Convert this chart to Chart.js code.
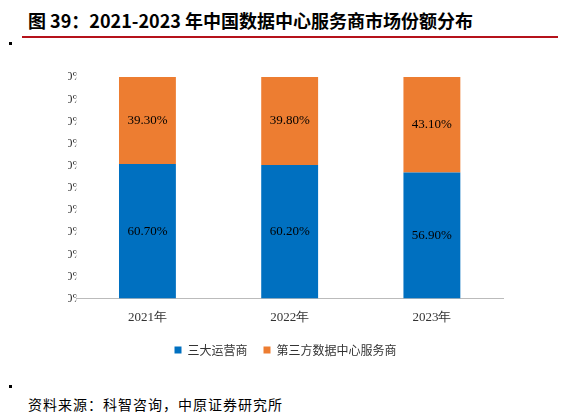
<!DOCTYPE html>
<html>
<head>
<meta charset="utf-8">
<script src="https://cdn.jsdelivr.net/npm/chart.js@4"></script>
<style>
body { margin:0; width:566px; height:420px; background:#fff; position:relative; font-family:"Noto Sans CJK SC", sans-serif; }
#title { position:absolute; left:28px; top:7px; font-size:18px; font-weight:bold; color:#000; }
#rule { position:absolute; left:22px; top:36px; width:536px; height:2px; background:#b5121b; }
#src { position:absolute; left:28px; top:394px; font-size:14px; color:#000; letter-spacing:1px; }
.dot { position:absolute; left:9px; width:3px; height:3px; background:#000; }
#box { position:absolute; left:40px; top:60px; width:500px; height:306px; }
</style>
</head>
<body>
<div id="title">图 39：2021-2023 年中国数据中心服务商市场份额分布</div>
<div id="rule"></div>
<div class="dot" style="top:42px"></div>
<div class="dot" style="top:385px"></div>
<div id="box"><canvas id="c"></canvas></div>
<div id="src">资料来源：科智咨询，中原证券研究所</div>
<script>
const categories = ["2021年", "2022年", "2023年"];
const operators = [60.7, 60.2, 56.9];
const thirdParty = [39.3, 39.8, 43.1];

const labelPlugin = {
  id: "labels",
  afterDatasetsDraw(chart) {
    const ctx = chart.ctx;
    ctx.save();
    ctx.font = "13px 'Liberation Serif', serif";
    ctx.fillStyle = "#000";
    ctx.textAlign = "center";
    ctx.textBaseline = "middle";
    chart.data.datasets.forEach((ds, i) => {
      chart.getDatasetMeta(i).data.forEach((bar, j) => {
        const mid = (bar.y + bar.base) / 2;
        ctx.fillText(ds.data[j].toFixed(2) + "%", bar.x, mid);
      });
    });
    ctx.restore();
  }
};

new Chart(document.getElementById("c"), {
  type: "bar",
  data: {
    labels: categories,
    datasets: [
      { label: "三大运营商", data: operators, backgroundColor: "#0070C0", barPercentage: 0.4, categoryPercentage: 1 },
      { label: "第三方数据中心服务商", data: thirdParty, backgroundColor: "#ED7D31", barPercentage: 0.4, categoryPercentage: 1 }
    ]
  },
  options: {
    responsive: true,
    maintainAspectRatio: false,
    animation: false,
    layout: { padding: { left: 28, right: 37, top: 17 } },
    plugins: {
      legend: {
        position: "bottom",
        labels: { boxWidth: 7, boxHeight: 7, font: { size: 12, family: "Noto Sans CJK SC" }, color: "#333", padding: 16 }
      },
      tooltip: { enabled: false }
    },
    scales: {
      x: {
        stacked: true,
        grid: { display: false },
        border: { color: "#bbb" },
        ticks: { color: "#333", font: { size: 13, family: "Liberation Serif" } }
      },
      y: {
        stacked: true,
        min: 0, max: 100,
        grid: { display: false },
        border: { display: false },
        ticks: { stepSize: 10, padding: -15, color: "#333", font: { size: 13, family: "Liberation Serif" }, callback: v => v + "%" }
      }
    }
  },
  plugins: [labelPlugin]
});
</script>
</body>
</html>
